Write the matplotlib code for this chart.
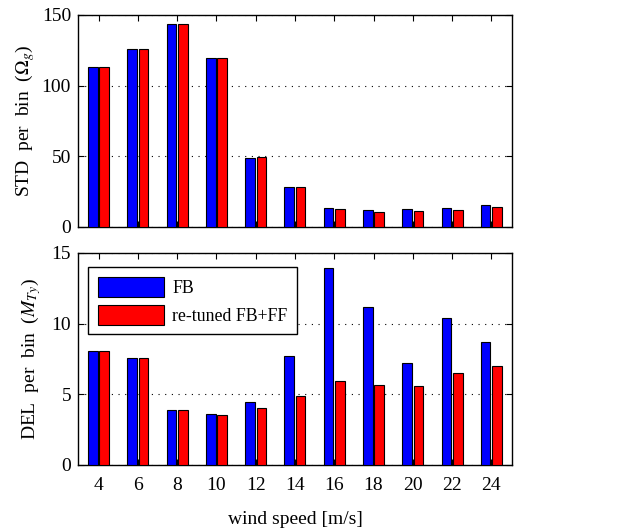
import numpy as np
import matplotlib
matplotlib.use("Agg")
import matplotlib.pyplot as plt

# Parameters
plt.rcParams.update({
    'font.family': 'Liberation Serif',
    'mathtext.fontset': 'stix',
    'font.size': 14,
})

# Data
wind_speed = [4, 6, 8, 10, 12, 14, 16, 18, 20, 22, 24]
std_fb = [113.2, 125.6, 143.8, 119.3, 48.8, 28.3, 13.4, 11.8, 12.5, 13.7, 15.8]
std_ff = [113.2, 125.6, 143.8, 119.3, 49.3, 28.3, 12.7, 10.4, 11.6, 12.3, 14.2]
del_fb = [8.05, 7.6, 3.88, 3.58, 4.47, 7.68, 13.94, 11.16, 7.2, 10.38, 8.69]
del_ff = [8.05, 7.6, 3.88, 3.53, 4.05, 4.85, 5.93, 5.67, 5.6, 6.52, 6.97]
labels = ['FB', 're-tuned FB+FF']


def bar_panel(ax, fb, ff, ymax, yticks):
    x = np.array(wind_speed)
    ax.bar(x - 0.29, fb, width=0.49, color='#0000ff', edgecolor='black',
           linewidth=0.8, label=labels[0], zorder=3)
    ax.bar(x + 0.29, ff, width=0.49, color='#ff0000', edgecolor='black',
           linewidth=0.8, label=labels[1], zorder=3)
    ax.set_xlim(2.95, 25.05)
    ax.set_ylim(0, ymax)
    ax.set_yticks(yticks)
    ax.set_xticks(wind_speed)
    ax.yaxis.grid(True, linestyle=(0, (1, 5)), color='black', linewidth=0.8)
    ax.tick_params(direction='in', top=True, right=True, length=4)
    ax.tick_params(axis='x', pad=9)
    ax.tick_params(axis='y', pad=5)
    for s in ax.spines.values():
        s.set_linewidth(1.0)


fig = plt.figure(figsize=(6.36, 5.29), dpi=100)

ax1 = fig.add_axes([0.1226, 0.5709, 0.6824, 0.4008])
bar_panel(ax1, std_fb, std_ff, 150, [0, 50, 100, 150])
ax1.set_xticklabels([])
ax1.set_ylabel(r'STD  per  bin  ($\Omega_g$)', labelpad=3)

ax2 = fig.add_axes([0.1226, 0.121, 0.6824, 0.4008])
bar_panel(ax2, del_fb, del_ff, 15, [0, 5, 10, 15])
ax2.set_ylabel(r'DEL  per  bin  ($M_{Ty}$)', labelpad=6)
ax2.set_xlabel('wind speed [m/s]', labelpad=12)

leg = ax2.legend(loc='upper left', bbox_to_anchor=(0.023, 0.934),
                 fancybox=False, edgecolor='black', framealpha=1,
                 fontsize=12.8, handlelength=3.7, handleheight=1.35,
                 borderaxespad=0, labelspacing=0.45, handletextpad=0.5,
                 borderpad=0.55)
leg.get_frame().set_linewidth(1.0)

fig.savefig('out.png', dpi=100)
